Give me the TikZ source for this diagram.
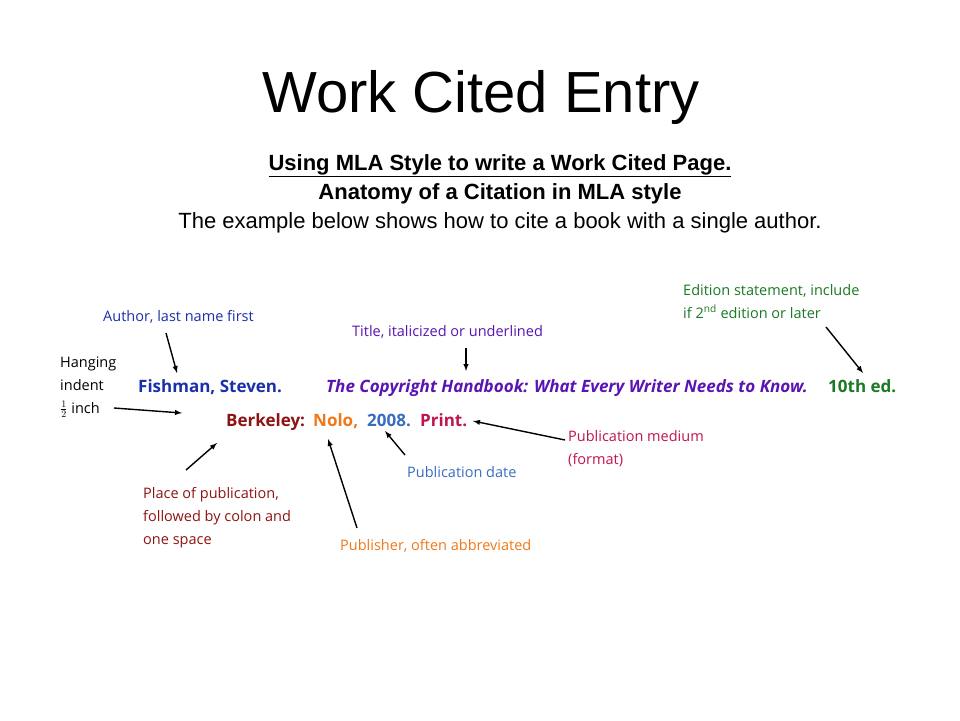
\documentclass[tikz,border=0pt]{standalone}
\usepackage{fontspec}
\setmainfont{Liberation Sans}
\newfontfamily\cf{Open Sans}
\definecolor{cAuth}{HTML}{1A30A8}
\definecolor{cTitle}{HTML}{5A14B4}
\definecolor{cEd}{HTML}{1B7A24}
\definecolor{cPlace}{HTML}{8E1414}
\definecolor{cPub}{HTML}{F07818}
\definecolor{cDate}{HTML}{3A6CC4}
\definecolor{cMed}{HTML}{C0154E}
\begin{document}
\begin{tikzpicture}[x=1pt,y=-1pt,
  lab/.style={font=\cf\fontsize{14.5}{23}\selectfont,anchor=base west,inner sep=0pt,align=left},
  cit/.style={font=\cf\bfseries\fontsize{17}{20}\selectfont,anchor=base west,inner sep=0pt},
  arr/.style={-latex,line width=1.4pt}]
\fill[white] (0,0) rectangle (960,720);
\node[font=\fontsize{58}{62}\selectfont,anchor=base] (ttl) at (481,112) {Work Cited Entry};
\node[font=\bfseries\fontsize{22}{24}\selectfont,anchor=base] (s1) at (500,170) {\underline{Using MLA Style to write a Work Cited Page.}};
\node[font=\bfseries\fontsize{22}{24}\selectfont,anchor=base] (s2) at (500,199) {Anatomy of a Citation in MLA style};
\node[font=\fontsize{22}{24}\selectfont,anchor=base] (s3) at (500,228) {The example below shows how to cite a book with a single author.};
% citation
\node[cit,text=cAuth] (auth) at (138,392) {Fishman, Steven.};
\node[cit,text=cTitle,font=\cf\bfseries\itshape\fontsize{17}{20}\selectfont] (book) at (326,392) {The Copyright Handbook: What Every Writer Needs to Know.};
\node[cit,text=cEd] (ed) at (828,392) {10th ed.};
\node[cit,text=cPlace] (berk) at (226,426) {Berkeley:};
\node[cit,text=cPub] (nolo) at (313,426) {Nolo,};
\node[cit,text=cDate] (yr) at (367,426) {2008.};
\node[cit,text=cMed] (print) at (420,426) {Print.};
% labels (multi-line nodes are placed at their last baseline)
\node[lab,text=cAuth] (lA) at (103,321) {Author, last name first};
\node[lab,text=cTitle] (lT) at (352,336) {Title, italicized or underlined};
\node[lab,text=cEd] (lE) at (683,318) {Edition statement, include\\if 2\textsuperscript{nd} edition or later};
\node[lab,text=black] (lH) at (60,413) {Hanging\\indent\\$\frac12$ inch};
\node[lab,text=cPlace] (lP) at (143,544) {Place of publication,\\followed by colon and\\one space};
\node[lab,text=cPub] (lU) at (340,550) {Publisher, often abbreviated};
\node[lab,text=cDate] (lD) at (407,477) {Publication date};
\node[lab,text=cMed] (lM) at (568,464) {Publication medium\\(format)};
% arrow endpoints
\coordinate (a1) at (166,333); \coordinate (a2) at (177,373);
\coordinate (t1) at (466,348); \coordinate (t2) at (466,371);
\coordinate (e1) at (826,327); \coordinate (e2) at (863,373);
\coordinate (h1) at (114,408); \coordinate (h2) at (182,413);
\coordinate (p1) at (186,470); \coordinate (p2) at (217,443);
\coordinate (u1) at (357,528); \coordinate (u2) at (328,439);
\coordinate (d1) at (405,455); \coordinate (d2) at (385,431);
\coordinate (m1) at (565,440); \coordinate (m2) at (473,421);
\foreach \s/\t in {a1/a2,t1/t2,e1/e2,h1/h2,p1/p2,u1/u2,d1/d2,m1/m2}
  \draw[arr] (\s) -- (\t);
\end{tikzpicture}
\end{document}
